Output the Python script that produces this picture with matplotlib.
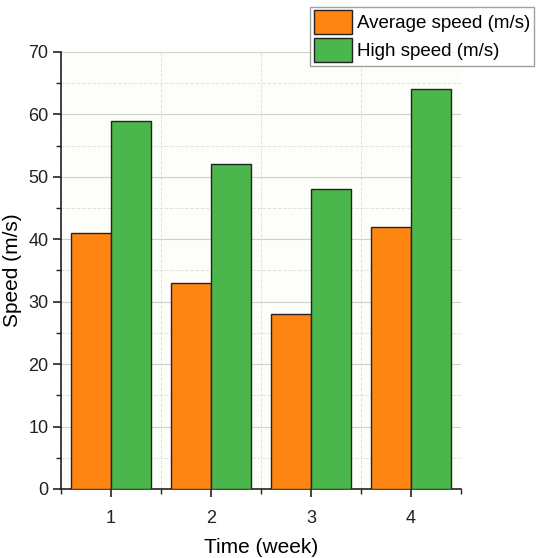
import matplotlib
matplotlib.use('Agg')
import matplotlib.pyplot as plt
from matplotlib.ticker import MultipleLocator
import numpy as np

weeks = [1, 2, 3, 4]
avg_speed = [41, 33, 28, 42]
high_speed = [59, 52, 48, 64]

plt.rcParams['font.family'] = ['Liberation Sans', 'DejaVu Sans']

fig = plt.figure(figsize=(5.38, 5.58), dpi=100)
ax = fig.add_axes([0.1134, 0.1237, 0.7435, 0.7833])
ax.set_facecolor('#fdfdf9')

x = np.array(weeks)
w = 0.4
ax.bar(x - w / 2, avg_speed, w, color='#ff8513', edgecolor='#222222', linewidth=1, label='Average speed (m/s)', zorder=3)
ax.bar(x + w / 2, high_speed, w, color='#4bb64b', edgecolor='#222222', linewidth=1, label='High speed (m/s)', zorder=3)

ax.set_xlim(0.5, 4.5)
ax.set_ylim(0, 70)
ax.set_xticks(weeks)
ax.xaxis.set_minor_locator(MultipleLocator(1, offset=0.5))
ax.yaxis.set_major_locator(MultipleLocator(10))
ax.yaxis.set_minor_locator(MultipleLocator(5))

ax.grid(which='major', axis='y', color='#cfcfcf', linewidth=0.8, zorder=0)
ax.grid(which='minor', color='#e2e2e2', linewidth=0.7, linestyle='--', zorder=0)

for s in ['top', 'right']:
    ax.spines[s].set_visible(False)
for s in ['left', 'bottom']:
    ax.spines[s].set_linewidth(1.2)
    ax.spines[s].set_color('#222222')

ax.tick_params(which='major', direction='out', length=6, width=1.2, labelsize=13, colors='#222222')
ax.tick_params(which='minor', direction='out', length=3.5, width=1.0, colors='#222222')
ax.tick_params(axis='x', pad=9)
ax.tick_params(axis='y', pad=3)

ax.set_xlabel('Time (week)', fontsize=15, labelpad=8)
ax.set_ylabel('Speed (m/s)', fontsize=15)
ax.yaxis.set_label_coords(-0.098, 0.5)

fig.legend(loc='upper right', bbox_to_anchor=(1.0, 0.995), fontsize=13.5, frameon=True,
           fancybox=False, edgecolor='#888888', handlelength=2.0, handleheight=1.6,
           handletextpad=0.3, borderpad=0.2, labelspacing=0.2, borderaxespad=0.2)

fig.savefig('out.png', dpi=100)
